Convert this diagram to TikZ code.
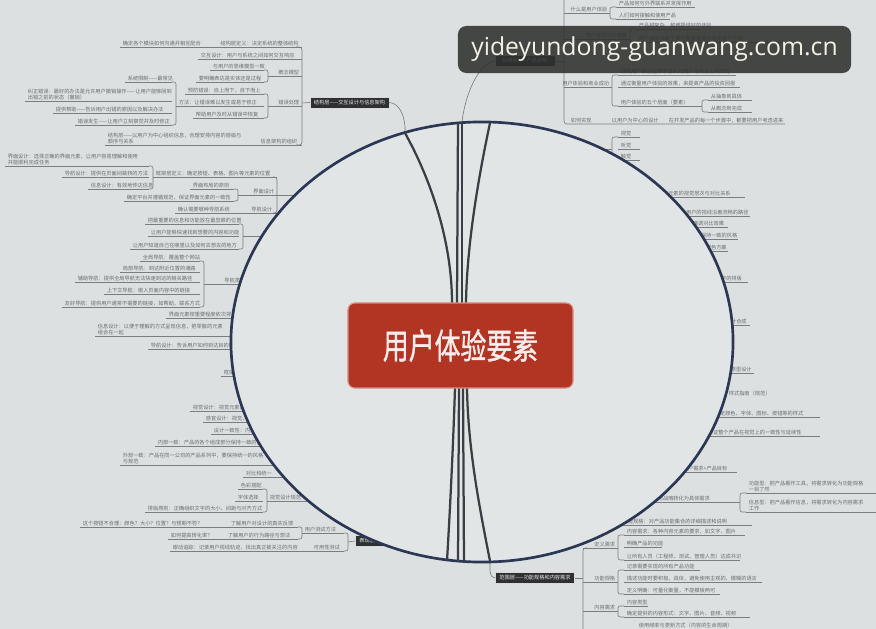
\documentclass[tikz,border=0pt]{standalone}
\usepackage{fontspec}
\newfontfamily\cjk{Noto Sans CJK SC}
\newfontfamily\cjkcore[FakeBold=1.2]{Noto Sans CJK SC}
\newfontfamily\wmfont{Open Sans}
\usepackage{tikz}
\usetikzlibrary{positioning}
\definecolor{paper}{HTML}{DDE0E1}
\definecolor{bubble}{HTML}{E2E5E6}
\definecolor{rimblue}{HTML}{2A3855}
\definecolor{spokegray}{HTML}{3B3E44}
\definecolor{twiggray}{HTML}{7A7E80}
\definecolor{txtgray}{HTML}{6A6E70}
\definecolor{layerdark}{HTML}{2E3031}
\definecolor{brick}{HTML}{B23422}
\definecolor{wmdark}{HTML}{2F312F}
\definecolor{wmtext}{HTML}{F2EFE4}

% leaf: name, x from, x to, underline y, text
\newcommand{\leaf}[5]{\draw[twig] (#2,#4) -- (#3,#4);
  \node[leaftext] (#1) at ({#2+2},#4) {#5};}
% label set against the right end of its line
\newcommand{\lbl}[5]{\draw[twig] (#2,#4) -- (#3,#4);
  \node[leaftext, anchor=south east] (#1) at ({#3-2},#4) {#5};}
% bracket: x, y top, y bottom, arm
\newcommand{\brk}[4]{\draw[twig, rounded corners=1.5pt] ({#1+#4},#2) -| (#1,#3) -- ({#1+#4},#3);}

\begin{document}
\begin{tikzpicture}[
    x=0.025cm, y=-0.025cm,
    twig/.style={draw=twiggray, line width=0.45pt},
    leaftext/.style={anchor=south west, inner sep=0.4pt, align=left, text=txtgray, font=\cjk\fontsize{3.7}{4.6}\selectfont},
    layerbox/.style={fill=layerdark, draw=white!85!black, line width=0.3pt, text=white!92!black, font=\cjk\fontsize{3.7}{4.6}\selectfont, minimum height=0.275cm, inner sep=1pt},
    rim/.style={draw=rimblue, line width=1.9pt, fill=bubble},
    spoke/.style={draw=spokegray, line width=1.6pt},
    core/.style={fill=brick, draw=brick!55!white, line width=0.8pt, rounded corners=5pt, minimum width=5.625cm, minimum height=2.125cm, text=white!93!red, font=\cjkcore\fontsize{18.4}{20}\selectfont},
    wm/.style={fill=wmdark, fill opacity=0.88, text opacity=1, rounded corners=6pt, minimum width=9.825cm, minimum height=1.175cm, text=wmtext, font=\wmfont\fontsize{17.6}{20}\selectfont}
]
\useasboundingbox (0,0) rectangle (876,629);
\fill[paper] (0,0) rectangle (876,629);

% Strategy layer (top right)
\draw[twig, rounded corners=2pt] (564,-5) |- (785,124);
\lbl{wt1}{564}{610}{13}{什么是用户体验}
\brk{610}{7}{19}{6}
\leaf{wt1a}{616}{695}{7}{产品如何与外界联系并发挥作用}
\leaf{wt1b}{616}{670}{19}{人们如何接触和使用产品}
\lbl{wt2}{564}{630}{39}{用户体验为何重要}
\brk{630}{29}{42}{6}
\leaf{wt2a}{636}{700}{29}{产品越复杂，越难提供好的体验}
\leaf{wt2b}{636}{782}{42}{用户体验决定了用户是否会再次使用这个产品}
\node[layerbox, minimum width=1.5cm] (zhanlve) at (525,61) {战略层——产品目标};
\draw[twig] (zhanlve.east) -- (564,61);
\lbl{wt3}{564}{612}{87}{用户体验和商业成功}
\brk{612}{75}{106}{6}
\leaf{wt3a}{618}{736}{75}{好的用户体验能带来忠实的用户与商业上的成功}
\leaf{wt3b}{618}{740}{87}{通过衡量用户体验的效果，来提高产品的投资回报}
\leaf{wt3c}{618}{702}{106}{用户体验的五个层面（要素）}
\brk{702}{100}{112}{6}
\leaf{wt3d}{708}{752}{100}{从抽象到具体}
\leaf{wt3e}{708}{752}{112}{从概念到完成}
\node[leaftext] (wt4a) at (570,124) {如何实现};
\node[leaftext] (wt4b) at (611,124) {以用户为中心的设计};
\node[leaftext] (wt4c) at (668,124) {在开发产品的每一个步骤中，都要把用户考虑进来};

% Structure layer (top left)
\leaf{sa}{120}{302}{47}{确定各个模块如何沟通并相互配合}
\node[leaftext, right=0.45cm of sa] (sb) {结构层定义：决定系统的整体结构};
\leaf{sc}{198}{302}{59}{交互设计：用户与系统之间如何交互响应}
\lbl{sd}{268}{302}{76}{概念模型}
\brk{268}{70}{82}{-4}
\leaf{sd1}{210}{264}{70}{与用户的思维模型一致}
\leaf{sd2}{196}{264}{82}{要明确表达是实体还是过程}
\lbl{se}{268}{302}{106}{错误处理}
\brk{268}{94}{118}{-4}
\leaf{se1}{185}{264}{94}{预防错误：自上而下，自下而上}
\leaf{se2}{176}{264}{106}{方法：让错误难以发生或易于修正}
\leaf{se3}{193}{264}{118}{帮助用户及时从错误中恢复}
\brk{176}{82}{125}{-4}
\leaf{sf1}{125}{172}{82}{系统限制——最常见}
\leaf{sf2}{25}{172}{101}{纠正错误：最好的办法是允许用户撤销操作——让用户能够回到\\出错之前的状态（撤销）}
\leaf{sf3}{53}{172}{113}{提供帮助——告诉用户出错的原因以及解决办法}
\leaf{sf4}{75}{172}{125}{错误发生——让用户立刻察觉并及时修正}
\leaf{sg}{105}{302}{145}{结构层——以用户为中心组织信息，合理安排内容的层级与\\顺序与关系}
\node[leaftext, anchor=south east] (sg2) at (298,145) {信息架构的组织};
\draw[twig, rounded corners=2pt] (296,47) -| (302,145) -- (296,145);
\node[layerbox, minimum width=1.975cm] (jiegou) at (349.5,102.5) {结构层——交互设计与信息架构};
\draw[twig] (302,103) -- (jiegou.west);

% Skeleton layer (left)
\leaf{fa}{5}{149}{166}{界面设计：选择正确的界面元素，让用户容易理解和使用\\并能顺利完成任务}
\leaf{fb}{62}{149}{177}{导航设计：提供在页面间跳转的方法}
\leaf{fc}{88}{149}{189}{信息设计：有效地传达信息}
\brk{153}{166}{189}{-4}
\leaf{fd}{153}{277}{177}{框架层定义：确定按钮、表格、图片等元素的位置}
\leaf{fe}{190}{234}{189}{界面布局的原则}
\leaf{ff}{124}{234}{201}{确定平台并遵循规范，保证界面元素的一致性}
\brk{238}{189}{201}{-4}
\lbl{fg}{238}{277}{195}{界面设计}
\leaf{fh}{175}{277}{213}{确认需要哪种导航系统}
\node[leaftext, anchor=south east] (fh2) at (273,213) {导航设计};
\draw[twig, rounded corners=2pt] (273,177) -| (277,213) -- (273,213);
\draw[twig] (277,195) -- (300,195);

\leaf{ga}{145}{239}{224}{把最重要的信息和功能放在最显眼的位置}
\leaf{gb}{148}{239}{236}{让用户能够快速找到想要的内容和功能}
\leaf{gc}{130}{239}{249}{让用户知道自己在哪里以及如何去想去的地方}
\brk{243}{224}{249}{-4}
\draw[twig] (243,236) -- (275,236);

\leaf{na}{140}{200}{261}{全局导航：覆盖整个网站}
\leaf{nb}{120}{200}{272}{局部导航：到达附近位置的通路}
\leaf{nc}{75}{200}{282}{辅助导航：提供全局导航无法快速到达的相关路径}
\leaf{nd}{104}{200}{294}{上下文导航：嵌入页面内容中的链接}
\leaf{ne}{62}{200}{307}{友好导航：提供用户通常不需要的链接，如帮助、联系方式}
\brk{204}{261}{307}{-4}
\lbl{nf}{204}{248}{284}{导航类型}

\leaf{ma}{166}{250}{318}{界面元素按重要程度依次排列}
\leaf{mb}{95}{250}{336}{信息设计：以便于理解的方式呈现信息，把零散的元素\\组合在一起}
\leaf{mc}{148}{250}{349}{导航设计：告诉用户如何到达目的地}
\leaf{md}{221}{250}{376}{框架层}

% Surface layer (bottom left)
\leaf{pa}{190}{262}{411}{视觉设计：视觉元素的一致性}
\leaf{pb}{203}{268}{422}{感官设计：视觉、听觉、触觉}
\leaf{pc}{211}{272}{434}{设计一致性：内部一致与外部一致}
\leaf{pd}{155}{280}{446}{内部一致：产品的各个组成部分保持一致的设计风格}
\leaf{pe}{120}{290}{465}{外部一致：产品在同一公司的产品系列中，要保持统一的风格\\与规范}
\leaf{pf}{243}{300}{477}{对比和统一}
\leaf{qa}{238}{263}{489}{色彩搭配}
\leaf{qb}{235}{263}{501}{字体选择}
\leaf{qc}{145}{263}{512}{排版原则：正确组织文字的大小、间距与对齐方式}
\brk{267}{489}{512}{-4}
\leaf{qd}{267}{318}{501}{视觉设计规范}
\leaf{ra}{80}{298}{527}{这个按钮不合理：颜色？大小？位置？与预期不符？}
\node[leaftext] (ra2) at (230,527) {了解用户对设计的真实反馈};
\leaf{rb}{168}{298}{539}{如何提高转化率？}
\node[leaftext] (rb2) at (227,539) {了解用户的行为路径与想法};
\brk{302}{527}{539}{-4}
\leaf{rc}{302}{344}{533}{用户测试方法}
\leaf{rd}{170}{344}{551}{眼动追踪：记录用户视线轨迹，找出真正被关注的内容}
\node[leaftext] (rd2) at (313,551) {可用性测试};
\brk{348}{533}{551}{-4}
\node[layerbox, minimum width=1.35cm] (biaoxian) at (382,541) {表现层——视觉设计};
\draw[twig] (348,542) -- (biaoxian.west);

% Right side
\brk{612}{137}{160}{6}
\leaf{va}{618}{640}{137}{视觉}
\leaf{vb}{618}{640}{149}{听觉}
\leaf{vc}{618}{640}{160}{触觉}
\draw[twig] (612,149) -- (595,149);
\leaf{vd}{655}{745}{197}{界面元素的视觉层次与对比关系}
\leaf{ve}{678}{750}{216}{让用户的视线沿着流畅的路径}
\leaf{vf}{690}{728}{227}{强调对比效果}
\leaf{vg}{698}{738}{239}{保持一致的风格}
\leaf{vh}{703}{728}{251}{配色方案}
\leaf{vi}{713}{748}{282}{文字的排版}
\leaf{vj}{723}{750}{325}{设计合成}
\leaf{wa}{728}{754}{373}{原型设计}
\node[leaftext] (wb0) at (728,397) {样式指南（规范）};
\leaf{wb}{712}{820}{417}{规定颜色、字体、图标、按钮等的样式}
\leaf{wc}{705}{820}{436}{保证整个产品在视觉上的一致性与延续性}
\leaf{wd}{680}{737}{472}{用户需求+产品目标}
\leaf{we}{655}{740}{502}{把战略转化为具体需求}
\brk{740}{493}{512}{6}
\leaf{wf}{746}{880}{493}{功能型：把产品看作工具，将需求转化为功能规格\\一目了然}
\leaf{wg}{746}{880}{512}{信息型：把产品看作信息，将需求转化为内容需求\\工作}

% Scope layer (bottom right)
\leaf{wh}{620}{752}{525}{功能规格：对产品功能集合的详细描述和说明}
\leaf{wi}{624}{745}{535}{内容需求：各种内容元素的要求，如文字、图片}
\leaf{wj}{624}{662}{547}{明确产品的功能}
\leaf{wk}{624}{740}{560}{让所有人员（工程师、测试、管理人员）达成共识}
\brk{618}{535}{560}{6}
\lbl{wl}{583}{618}{548}{定义需求}
\leaf{xa}{624}{700}{570}{记录需要实现的所有产品功能}
\leaf{xb}{624}{762}{582}{描述功能时要积极、具体，避免使用主观的、模糊的语言}
\leaf{xc}{624}{720}{594}{定义明确：可量化衡量，不能模棱两可}
\brk{618}{570}{594}{6}
\lbl{xl}{583}{618}{582}{功能规格}
\leaf{ya}{624}{648}{606}{内容类型}
\leaf{yb}{624}{750}{617}{确定提供的内容形式：文字、图片、音频、视频}
\leaf{yc}{636}{724}{629}{使用频率与更新方式（内容的生命周期）}
\brk{618}{606}{617}{6}
\lbl{yl}{583}{618}{611}{内容需求}
\draw[twig, rounded corners=2pt] (587,548) -| (583,629);
\node[layerbox, minimum width=1.975cm] (fanwei) at (535,578) {范围层——功能规格和内容需求};
\draw[twig] (fanwei.east) -- (583,578);

% Connectors out of the ring
\coordinate (rimT1) at (405,133);
\coordinate (rimT2) at (458,123);
\coordinate (rimT3) at (462,122);
\coordinate (rimT4) at (490,123);
\coordinate (rimB1) at (447,561);
\coordinate (rimB2) at (458,562);
\coordinate (rimB3) at (464,562);
\coordinate (rimB4) at (490,561);
\draw[twig] (jiegou.east) .. controls (400,103) and (406,118) .. (rimT1);
\draw[twig] (zhanlve.west) .. controls (478,64) and (465,95) .. (rimT3);
\draw[twig] (rimB4) .. controls (490,570) and (489,578) .. (fanwei.west);
\draw[twig] (biaoxian.east) -- (rimB1);

% The ring
\draw[rim] (482,342) ellipse [x radius=6.275cm, y radius=5.5cm];

% Spokes to the centre
\coordinate (hubT1) at (452,303);
\coordinate (hubT2) at (457,303);
\coordinate (hubT3) at (462,303);
\coordinate (hubT4) at (466,303);
\coordinate (hubB1) at (455,388);
\coordinate (hubB2) at (459,388);
\coordinate (hubB3) at (463,388);
\coordinate (hubB4) at (467,388);
\draw[spoke] (hubT1) .. controls (452,240) and (430,178) .. (rimT1);
\draw[spoke] (hubT2) -- (rimT2);
\draw[spoke] (hubT3) -- (rimT3);
\draw[spoke] (hubT4) .. controls (467,240) and (480,170) .. (rimT4);
\draw[spoke] (hubB1) .. controls (453,450) and (450,510) .. (rimB1);
\draw[spoke] (hubB2) -- (rimB2);
\draw[spoke] (hubB3) -- (rimB3);
\draw[spoke] (hubB4) .. controls (468,450) and (480,510) .. (rimB4);

\node[core] (core) at (460.5,345.5) {\scalebox{1}[1.35]{用户体验要素}};

% Watermark
\node[wm] (mark) at (654.5,49.5) {yideyundong-guanwang.com.cn};
\end{tikzpicture}
\end{document}
